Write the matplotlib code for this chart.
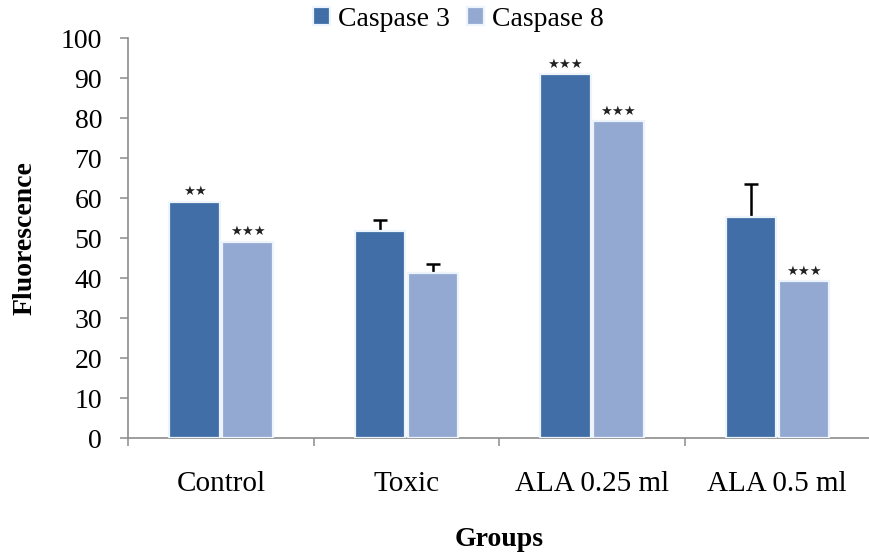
import numpy as np
import matplotlib.pyplot as plt

plt.rcParams['font.family'] = ['Liberation Serif', 'DejaVu Serif']

groups = ['Control', 'Toxic', 'ALA 0.25 ml', 'ALA 0.5 ml']
series = ['Caspase 3', 'Caspase 8']
casp3 = [59.1, 51.8, 91.0, 55.3]
casp8 = [49.1, 41.3, 79.3, 39.3]
casp3_err = [0, 2.7, 0, 8.2]
casp8_err = [0, 2.3, 0, 0]
casp3_sig = ['**', '', '***', '']
casp8_sig = ['***', '', '***', '***']

colors = ['#416ea6', '#93a9d1']

fig = plt.figure(figsize=(8.7, 5.52), dpi=100)
ax = fig.add_axes([0.1477, 0.2065, 0.8523, 0.7246])

x = np.arange(len(groups))
w = 0.272
off = 0.143

for vals, errs, sig, dx, c, name in [
    (casp3, casp3_err, casp3_sig, -off, colors[0], series[0]),
    (casp8, casp8_err, casp8_sig, off, colors[1], series[1]),
]:
    pos = x + dx
    ax.bar(pos, vals, w, color=c, edgecolor='#eef4fb', linewidth=1.6,
           zorder=3, label=name)
    errs = np.array(errs, dtype=float)
    has = errs > 0
    if has.any():
        vals_a = np.array(vals)[has]
        _, caps, _ = ax.errorbar(pos[has], vals_a,
                                 yerr=[np.zeros(has.sum()), errs[has]],
                                 fmt='none', ecolor='black', elinewidth=1.8,
                                 capsize=5, capthick=1.8, zorder=2)
        # only the upper caps are shown
        for cap in caps:
            if np.allclose(cap.get_ydata(), vals_a):
                cap.set_visible(False)
    for p, v, s in zip(pos, vals, sig):
        if s:
            ax.text(p, v + 0.8, '\u2605' * len(s), ha='center', va='bottom',
                    fontsize=9.5, color='#222222', family='DejaVu Sans', zorder=4)

ax.set_ylim(0, 100)
ax.set_xlim(-0.5, 3.455)
ax.set_yticks(np.arange(0, 101, 10))
ax.set_xticks(x)
ax.set_xticklabels(groups)
ax.set_xticks(np.arange(-0.5, 4, 1.0), minor=True)

for side in ['top', 'right']:
    ax.spines[side].set_visible(False)
for side in ['left', 'bottom']:
    ax.spines[side].set_color('#8c8c8c')
    ax.spines[side].set_linewidth(1.2)

ax.tick_params(axis='y', direction='out', length=6, width=1.1, color='#8c8c8c',
               labelsize=20, pad=13)
ax.tick_params(axis='x', which='major', length=0, labelsize=21, pad=24)
ax.tick_params(axis='x', which='minor', direction='out', length=6, width=1.1,
               color='#8c8c8c')

ax.set_ylabel('Fluorescence', fontsize=20, fontweight='bold', labelpad=17)
ax.set_xlabel('Groups', fontsize=20, fontweight='bold', labelpad=21)

fig.legend(loc='center', bbox_to_anchor=(0.527, 0.965), ncol=2, frameon=False,
           fontsize=20, handlelength=0.6, handleheight=0.6, handletextpad=0.3,
           columnspacing=0.6, borderpad=0)

fig.savefig('out.png', dpi=100)
